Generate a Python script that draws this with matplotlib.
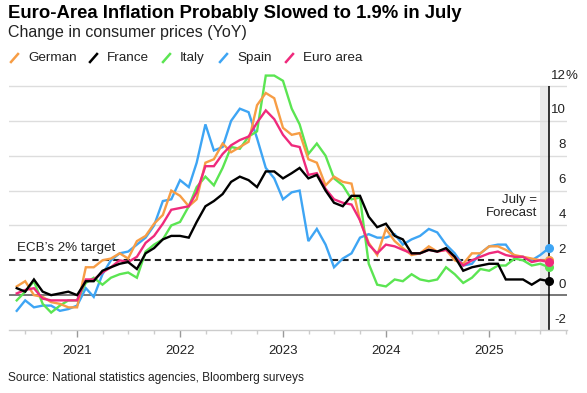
import pandas as pd
import matplotlib.pyplot as plt
import matplotlib.dates as mdates
import matplotlib.transforms as mtransforms
from matplotlib.lines import Line2D

plt.rcParams['font.family'] = ['Liberation Sans', 'DejaVu Sans']

# monthly HICP YoY, May 2020 .. Jul 2025 (July = forecast)
months = pd.date_range('2020-05-31', '2025-07-31', freq='ME')

german = [0.5, 0.8, 0.0, -0.1, -0.4, -0.5, -0.7, -0.7,
          1.6, 1.6, 2.0, 2.1, 2.4, 2.1, 3.1, 3.4, 4.1, 4.6, 6.0, 5.7,
          5.1, 5.5, 7.6, 7.8, 8.7, 8.2, 8.5, 8.8, 10.9, 11.6, 11.3, 9.6,
          9.2, 9.3, 7.8, 7.6, 6.3, 6.8, 6.5, 6.4, 4.3, 3.0, 2.3, 3.8,
          3.1, 2.7, 2.3, 2.4, 2.8, 2.5, 2.6, 2.0, 1.8, 2.4, 2.4, 2.8,
          2.8, 2.6, 2.3, 2.2, 2.1, 2.0, 2.0]
france = [0.4, 0.2, 0.9, 0.2, 0.0, 0.1, 0.2, 0.0,
          0.8, 0.8, 1.4, 1.6, 1.8, 1.9, 1.5, 2.4, 2.7, 3.2, 3.4, 3.4,
          3.3, 4.2, 5.1, 5.4, 5.8, 6.5, 6.8, 6.6, 6.2, 7.1, 7.1, 6.7,
          7.0, 7.3, 6.7, 6.9, 6.0, 5.3, 5.1, 5.7, 5.7, 4.5, 3.9, 4.1,
          3.4, 3.2, 2.4, 2.4, 2.6, 2.5, 2.7, 2.2, 1.4, 1.6, 1.7, 1.8,
          1.8, 0.9, 0.9, 0.9, 0.6, 0.9, 0.8]
italy = [-0.3, 0.2, 0.8, -0.5, -1.0, -0.6, -0.3, -0.3,
         0.7, 1.0, 0.6, 1.0, 1.2, 1.3, 1.0, 2.5, 2.9, 3.2, 4.0, 4.2,
         5.1, 6.2, 6.8, 6.3, 7.3, 8.5, 8.4, 9.1, 9.4, 12.6, 12.6, 12.3,
         10.7, 9.8, 8.1, 8.7, 8.0, 6.7, 6.3, 5.5, 5.6, 1.8, 0.6, 0.5,
         0.9, 0.8, 1.2, 0.9, 0.8, 0.9, 1.6, 1.2, 0.7, 1.0, 1.5, 1.4,
         1.7, 1.7, 2.1, 2.0, 1.7, 1.8, 1.6]
spain = [-0.9, -0.3, -0.7, -0.6, -0.6, -0.9, -0.8, -0.6,
         0.4, -0.1, 1.2, 2.0, 2.4, 2.5, 2.9, 3.3, 4.0, 5.4, 5.5, 6.6,
         6.2, 7.6, 9.8, 8.3, 8.5, 10.0, 10.7, 10.5, 9.0, 7.3, 6.7, 5.5,
         5.9, 6.0, 3.1, 3.8, 2.9, 1.6, 2.1, 2.4, 3.3, 3.5, 3.3, 3.3,
         3.5, 2.9, 3.2, 3.4, 3.8, 3.6, 2.9, 2.4, 1.7, 1.8, 2.4, 2.8,
         2.9, 2.9, 2.2, 2.2, 2.0, 2.3, 2.7]
euro_area = [0.1, 0.3, 0.4, -0.2, -0.3, -0.3, -0.3, -0.3,
             0.9, 0.9, 1.3, 1.6, 2.0, 1.9, 2.2, 3.0, 3.4, 4.1, 4.9, 5.0,
             5.1, 5.9, 7.4, 7.4, 8.1, 8.6, 8.9, 9.1, 9.9, 10.6, 10.1, 9.2,
             8.6, 8.5, 6.9, 7.0, 6.1, 5.5, 5.3, 5.2, 4.3, 2.9, 2.4, 2.9,
             2.8, 2.6, 2.4, 2.4, 2.6, 2.5, 2.6, 2.2, 1.7, 2.0, 2.2, 2.4,
             2.5, 2.3, 2.2, 2.2, 1.9, 2.0, 1.9]

names = ['German', 'France', 'Italy', 'Spain', 'Euro area']
colors = {'German': '#f79d45', 'France': '#000000', 'Italy': '#5be552',
          'Spain': '#3ea5f4', 'Euro area': '#ef2a7c'}
series = {'German': german, 'France': france, 'Italy': italy,
          'Spain': spain, 'Euro area': euro_area}
draw_order = ['Spain', 'Italy', 'German', 'Euro area', 'France']

W, H = 587, 393
fig = plt.figure(figsize=(W / 100, H / 100), dpi=100)


def fx(px):
    return px / W


def fy(py):
    return 1 - py / H


ax = fig.add_axes([fx(9.4), fy(330), fx(567) - fx(9.4), fy(68.6) - fy(330)])
ax.set_ylim(-2, 13)
ax.set_xlim(pd.Timestamp('2020-05-05'), pd.Timestamp('2025-10-03'))

# grid and reference lines
for v in [4, 6, 8, 10, 12]:
    ax.axhline(v, color='#dddddd', lw=1.0, zorder=1)
ax.axhline(0, color='#777777', lw=1.4, zorder=1)

july = months[-1]
ax.axvspan(months[-2], july, ymin=0, ymax=14 / 15, color='#ebebeb', lw=0, zorder=0)
ax.vlines(july, -2, 12, color='black', lw=1.1, zorder=2)
ax.plot([ax.get_xlim()[0], mdates.date2num(july)], [2, 2], color='#222222',
        lw=1.5, ls=(0, (3, 2)), zorder=2)

for n in draw_order:
    ax.plot(months, series[n], color=colors[n], lw=1.7, zorder=3,
            solid_joinstyle='miter')
for n in ['German', 'Spain', 'Italy', 'France', 'Euro area']:
    ax.plot(months[-1:], series[n][-1:], 'o', color=colors[n], ms=5.5, zorder=4)

# axes styling
for s in ['top', 'left', 'right']:
    ax.spines[s].set_visible(False)
ax.spines['bottom'].set_color('#cccccc')
ax.spines['bottom'].set_linewidth(1.0)
ax.set_yticks([])
ax.xaxis.set_major_locator(mdates.YearLocator())
ax.xaxis.set_major_formatter(mdates.DateFormatter('%Y'))
ax.xaxis.set_minor_locator(mdates.MonthLocator(bymonth=[4, 7, 10]))
ax.tick_params(axis='x', which='major', length=5, width=1, color='#999999',
               labelsize=9.5, labelcolor='#222222', pad=6)
ax.tick_params(axis='x', which='minor', length=3, width=1, color='#cccccc')

# right-hand value labels, sitting above their gridlines
trans = mtransforms.blended_transform_factory(ax.transAxes, ax.transData)
for v in [-2, 0, 2, 4, 6, 8, 10, 12]:
    ax.text(0.998, v + 0.6, str(v), transform=trans, ha='right', va='center',
            fontsize=9.5, color='#222222')
ax.text(0.998, 12.6, '%', transform=trans, ha='left', va='center',
        fontsize=9.5, color='#222222')

ax.text(0.014, 2.7, 'ECB\u2019s 2% target', transform=trans, ha='left',
        va='center', fontsize=9.6, color='#222222')
ax.text(pd.Timestamp('2025-06-20'), 5.08, 'July =\nForecast', ha='right',
        va='center', fontsize=9.5, color='#222222', linespacing=1.15)

# titles
fig.text(fx(8), fy(14), 'Euro-Area Inflation Probably Slowed to 1.9% in July',
         fontsize=13.3, fontweight='bold', ha='left', va='center')
fig.text(fx(8), fy(33), 'Change in consumer prices (YoY)', fontsize=11.5,
         ha='left', va='center', color='#222222')

# legend with slanted marks
leg_x = [11, 90, 163, 220, 286]
for n, x0 in zip(names, leg_x):
    fig.add_artist(Line2D([fx(x0), fx(x0 + 7)], [fy(62), fy(54)],
                          color=colors[n], lw=1.8))
    fig.text(fx(x0 + 17), fy(58), n, fontsize=9.7, ha='left', va='center',
             color='#222222')

fig.text(fx(8), fy(378), 'Source: National statistics agencies, Bloomberg surveys',
         fontsize=8.6, ha='left', va='center', color='#222222')

fig.savefig('out.png', dpi=100)
